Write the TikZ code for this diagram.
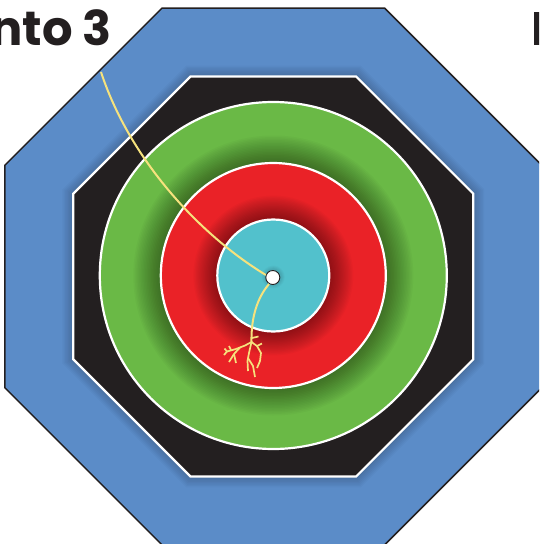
\documentclass[tikz,border=0pt]{standalone}
\usepackage{fontspec}
\newfontfamily\popf{Poppins}
\definecolor{cblue}{RGB}{91,140,200}
\definecolor{cblack}{RGB}{35,31,32}
\definecolor{cgreen}{RGB}{106,185,70}
\definecolor{cred}{RGB}{234,34,39}
\definecolor{ccyan}{RGB}{82,193,204}
\definecolor{cyel}{RGB}{246,226,125}
\newcommand\octpath[1]{(22.5:{#1*1.08239}) -- (67.5:{#1*1.08239}) -- (112.5:{#1*1.08239}) -- (157.5:{#1*1.08239}) -- (202.5:{#1*1.08239}) -- (247.5:{#1*1.08239}) -- (292.5:{#1*1.08239}) -- (337.5:{#1*1.08239}) -- cycle}
\tikzset{
  ringedge/.style={draw=white, line width=2.2pt},
  shadowlayer/.style={fill=black, opacity=0.022},
  rootline/.style={draw=cyel, line width=1.7pt, line cap=butt, line join=round},
  wire/.style={draw=cyel, line width=2pt},
}
\begin{document}
\begin{tikzpicture}[x=1pt,y=-1pt]
\useasboundingbox (0,0) rectangle (539,544);
\clip (0,0) rectangle (539,544);
\fill[white] (0,0) rectangle (539,544);
\begin{scope}[shift={(273.3,276.5)}]
  % outer blue octagon
  \fill[cblue] \octpath{268.5};
  \foreach \i in {1,...,18} {\fill[shadowlayer] \octpath{201+1.4*\i};}
  \draw[cblack, line width=1.5pt] \octpath{268.5};
  % black octagon
  \fill[cblack] \octpath{200};
  \draw[ringedge] \octpath{200};
  % green
  \fill[cgreen] (0,-1) circle (173.5);
  \draw[ringedge] (0,-1) circle (173.5);
  \foreach \i in {1,...,18} {\fill[shadowlayer] (0,-1) circle ({113+1.5*\i});}
  % red
  \fill[cred] (0,-1) circle (112.5);
  \draw[ringedge] (0,-1) circle (112.5);
  \foreach \i in {1,...,18} {\fill[shadowlayer] (0,-1) circle ({56.5+1.3*\i});}
  % cyan
  \fill[ccyan] (0,-1) circle (56);
  \draw[ringedge] (0,-1) circle (56);
  \foreach \i in {1,...,5} {\fill[shadowlayer] (0,0.5) circle ({7.5+0.8*\i});}
\end{scope}
% wires
\coordinate (wstart) at (101,72);
\coordinate (rootbase) at (251.5,342);
\node[circle, fill=white, draw=cblack, line width=0.9pt, minimum size=14pt, inner sep=0pt] (dot) at (272.8,277.5) {};
\draw[wire] (wstart) .. controls (130,160) and (200,235) .. (dot.160);
\draw[wire] (dot.240) .. controls (257,298) and (251,318) .. (rootbase);
% roots
\draw[rootline] (252,338) -- (258.5,336.5);
\draw[rootline] (rootbase) -- (245,345.5) -- (236,349) -- (227,351.5);
\draw[rootline] (227,351.5) -- (224.5,348.5);
\draw[rootline] (227,351.5) -- (224,355);
\draw[rootline] (240,347.5) -- (234,354) -- (229,362);
\draw[rootline] (234,354) -- (236,363);
\draw[rootline] (231,350) -- (229,346);
\draw[rootline] (rootbase) -- (249,353) -- (247.5,361) -- (248,371);
\draw[rootline] (248,358) -- (253,366) -- (255,377);
\draw[rootline] (rootbase) -- (257,346) -- (261,353) -- (260,361) -- (257,368);
\draw[rootline] (257,346) -- (262,343.5);
% texts
\node[anchor=base east, inner sep=0pt, font=\popf\bfseries\fontsize{48}{48}\selectfont, text=cblack] (title) at (112,45) {nto 3};
\fill[cblack] (534,12) rectangle (539.5,45);
\end{tikzpicture}
\end{document}
